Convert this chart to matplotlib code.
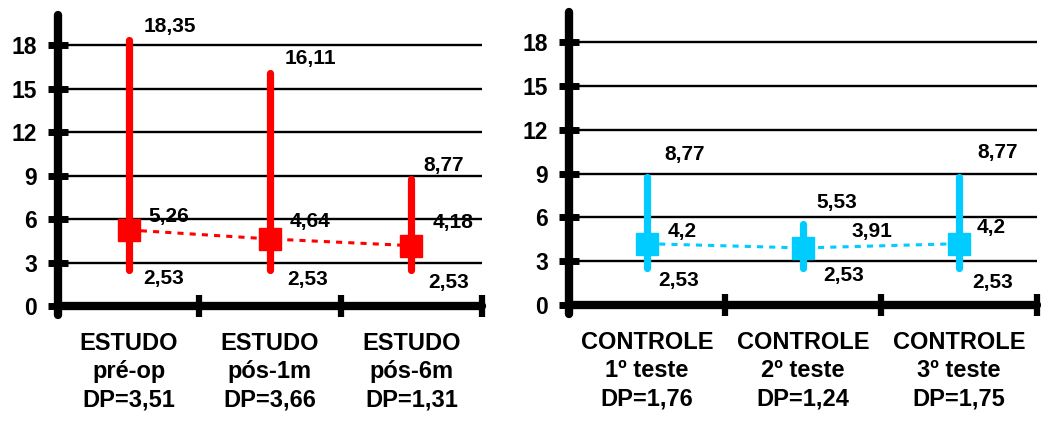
import matplotlib
matplotlib.use('Agg')
import matplotlib.pyplot as plt

plt.rcParams['font.family'] = ['Liberation Sans', 'DejaVu Sans']
plt.rcParams['font.weight'] = 'bold'

# ---- data ----
estudo_cats = ['ESTUDO\npré-op\nDP=3,51', 'ESTUDO\npós-1m\nDP=3,66', 'ESTUDO\npós-6m\nDP=1,31']
estudo_max = [18.35, 16.11, 8.77]
estudo_mean = [5.26, 4.64, 4.18]
estudo_min = [2.53, 2.53, 2.53]

controle_cats = ['CONTROLE\n1º teste\nDP=1,76', 'CONTROLE\n2º teste\nDP=1,24', 'CONTROLE\n3º teste\nDP=1,75']
controle_max = [8.77, 5.53, 8.77]
controle_mean = [4.2, 3.91, 4.2]
controle_min = [2.53, 2.53, 2.53]

y_ticks = [0, 3, 6, 9, 12, 15, 18]

# label offsets in pixels (dx, dy) for (max, mean, min) of each column
estudo_offsets = [[(15, 14), (20, 13), (15, -9)],
                  [(15, 14), (20, 17), (17, -10)],
                  [(12, 14), (21, 23), (17, -13)]]
controle_offsets = [[(17, 22), (21, 12), (11, -12)],
                    [(13, 22), (48, 16), (20, -7)],
                    [(18, 24), (18, 16), (13, -14)]]


def fmt(v):
    return f"{v:g}".replace('.', ',')


def draw_panel(ax, cats, vmax, vmean, vmin, color, offsets):
    xs = list(range(1, len(cats) + 1))
    ax.set_xlim(0.5, len(cats) + 0.5)
    ax.set_ylim(-0.6, 20.1)

    # grid
    ax.set_yticks(y_ticks)
    ax.yaxis.grid(True, color='black', lw=1.7)
    ax.set_axisbelow(True)

    # dashed line connecting means
    ax.plot(xs, vmean, color=color, ls=(0, (2, 2)), lw=2.2, zorder=2)
    # ranges
    for x, lo, hi in zip(xs, vmin, vmax):
        ax.plot([x, x], [lo, hi], color=color, lw=5.2, solid_capstyle='round', zorder=3)
    # means
    ax.plot(xs, vmean, 's', color=color, ms=16, ls='none', zorder=4)

    # value labels
    for i, x in enumerate(xs):
        for val, (dx, dy) in zip((vmax[i], vmean[i], vmin[i]), offsets[i]):
            ax.annotate(fmt(val), xy=(x, val), xytext=(dx, dy), textcoords='offset pixels',
                        ha='left', va='center', fontsize=15, fontweight='bold', zorder=5)

    # spines
    for s in ('top', 'right'):
        ax.spines[s].set_visible(False)
    ax.spines['bottom'].set_position(('data', 0))
    for s in ('left', 'bottom'):
        ax.spines[s].set_linewidth(6)
        ax.spines[s].set_capstyle('round')
        ax.spines[s].set_zorder(6)

    # x ticks: separators (major) and labels (minor)
    ax.set_xticks([x + 0.5 for x in xs])
    ax.set_xticklabels([])
    ax.set_xticks(xs, cats, minor=True)
    ax.tick_params(axis='x', which='major', direction='inout', length=16, width=4.5, color='black')
    ax.tick_params(axis='x', which='minor', length=0, pad=18.5, labelsize=17)
    for lbl in ax.get_xticklabels(minor=True):
        lbl.set_linespacing(1.3)
        lbl.set_fontweight('bold')

    ax.tick_params(axis='y', direction='inout', length=14, width=5, pad=8, labelsize=16.5, color='black')
    for lbl in ax.get_yticklabels():
        lbl.set_fontweight('bold')


fig = plt.figure(figsize=(10.41, 4.26), dpi=100)
ax1 = fig.add_axes([0.0557, 0.2606, 0.4073, 0.705])
ax2 = fig.add_axes([0.5466, 0.2634, 0.4496, 0.7096])

draw_panel(ax1, estudo_cats, estudo_max, estudo_mean, estudo_min, '#FF0000', estudo_offsets)
draw_panel(ax2, controle_cats, controle_max, controle_mean, controle_min, '#00CCFF', controle_offsets)

fig.savefig('out.png', dpi=100)
